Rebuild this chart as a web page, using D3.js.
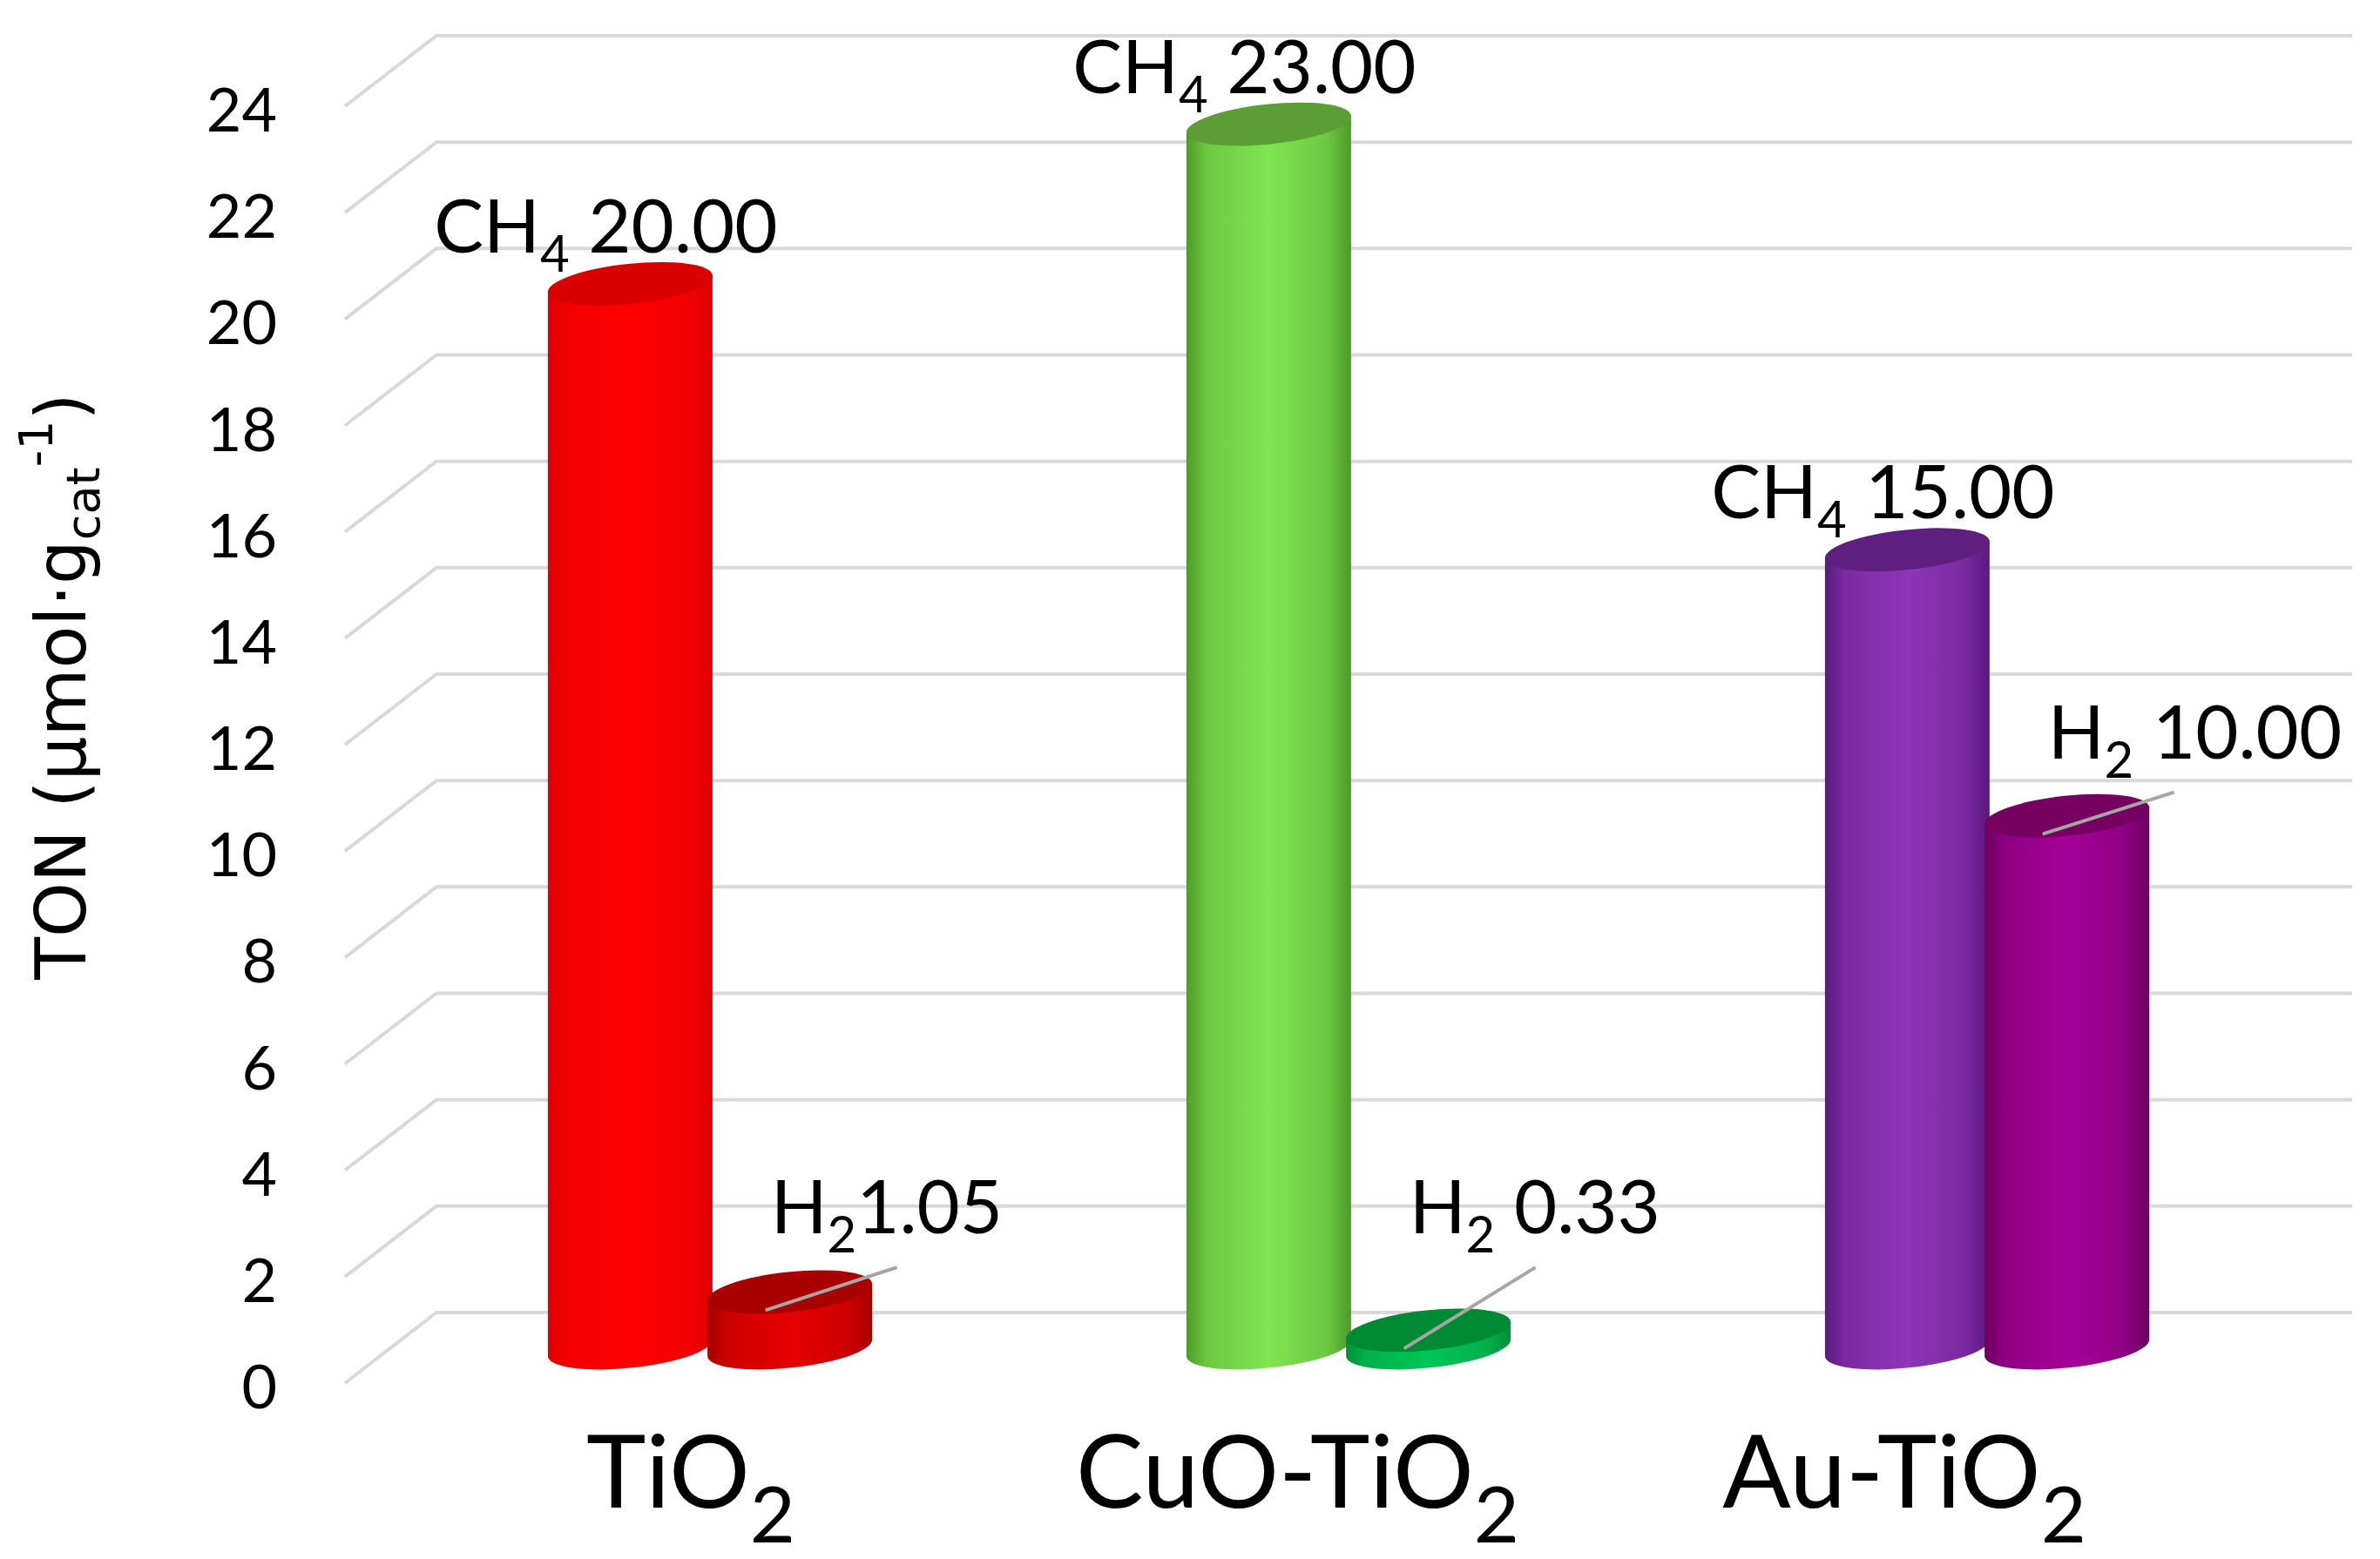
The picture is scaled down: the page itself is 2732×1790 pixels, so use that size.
<!DOCTYPE html>
<html>
<head>
<meta charset="utf-8">
<script src="https://cdn.jsdelivr.net/npm/d3@7"></script>
<style>
  body { margin: 0; background: #fff; }
</style>
</head>
<body>
<div id="chart"></div>
<script>
// data
var categories = ["TiO2", "CuO-TiO2", "Au-TiO2"];
var catText = ["TiO", "CuO-TiO", "Au-TiO"];   // a subscript "2" follows
var series = ["CH4", "H2"];
var ch4Values = [20.00, 23.00, 15.00];
var h2Values = [1.05, 0.33, 10.00];
var h2Gap = ["", " ", " "];                   // space between "H2" and the number
var yTicks = [0, 2, 4, 6, 8, 10, 12, 14, 16, 18, 20, 22, 24];

// colours: [edge, light, top]
var ch4Colors = [["#e00000", "#ff0000", "#da0000"],
                 ["#4f9a2a", "#7fe651", "#5b9e35"],
                 ["#5a1a7e", "#8f35b8", "#5f1f7e"]];
var h2Colors  = [["#a80000", "#e60000", "#a90000"],
                 ["#008f38", "#00c758", "#008a33"],
                 ["#6a005e", "#a6009a", "#76005f"]];

function init() {
    var w = 2732;
    var h = 1790;
    var depthX = 105, depthY = -81;     // front -> back wall
    var rx = 95, ry = 23, tilt = -6;    // cylinder ellipse
    var gridRight = 2700;

    var svg = d3.select("#chart").append("svg")
        .attr("width", w)
        .attr("height", h)
        .style("background", "#fff");

    var yFront = d3.scaleLinear().domain([0, 24]).range([1588, 122]);
    var yMid = v => yFront(v) + depthY / 2;

    var xFront0 = 396;
    var xBand = d3.scaleBand()
        .domain(categories)
        .range([xFront0 + depthX / 2, gridRight - depthX / 2]);
    var bw = xBand.bandwidth();
    var xSub = d3.scaleBand().domain(series).range([0.25 * bw, 0.75 * bw]);
    var barX = (c, s) => xBand(c) + xSub(s) + xSub.bandwidth() / 2;

    var xLabel = d3.scalePoint().domain(categories).range([793, 2186]);

    // gradients
    var defs = svg.append("defs");
    function addGrad(id, cols) {
        var g = defs.append("linearGradient").attr("id", id)
            .attr("x1", "0%").attr("x2", "100%").attr("y1", "0%").attr("y2", "0%");
        [[0, cols[0]], [0.12, d3.interpolateRgb(cols[0], cols[1])(0.6)], [0.5, cols[1]],
         [0.85, d3.interpolateRgb(cols[0], cols[1])(0.6)], [1, cols[0]]]
            .forEach(s => g.append("stop").attr("offset", s[0]).attr("stop-color", s[1]));
    }
    categories.forEach((c, i) => {
        addGrad("g-ch4-" + i, ch4Colors[i]);
        addGrad("g-h2-" + i, h2Colors[i]);
    });

    // gridlines (back wall + side wall)
    svg.append("g").selectAll("path")
        .data(yTicks)
        .enter()
        .append("path")
        .attr("d", t => {
            var yf = yFront(t);
            return "M" + xFront0 + "," + yf + " L" + (xFront0 + depthX) + "," + (yf + depthY)
                + " L" + gridRight + "," + (yf + depthY);
        })
        .attr("fill", "none")
        .attr("stroke", "#d9d9d9")
        .attr("stroke-width", 4);

    // y tick labels
    svg.append("g").selectAll("text")
        .data(yTicks)
        .enter()
        .append("text")
        .attr("x", 318)
        .attr("y", t => yFront(t) + 29)
        .attr("text-anchor", "end")
        .style("font-family", "Lato, 'Open Sans', sans-serif")
        .style("font-size", "70px")
        .text(t => t);

    // cylinders
    var th = tilt * Math.PI / 180;
    var ex = rx * Math.cos(th), ey = rx * Math.sin(th);
    function cylinder(g, cx, v, gradId, topCol) {
        var yt = yMid(v), yb = yMid(0);
        var d = "M" + (cx - ex) + "," + (yt - ey)
            + " L" + (cx - ex) + "," + (yb - ey)
            + " A" + rx + "," + ry + " " + tilt + " 0 0 " + (cx + ex) + "," + (yb + ey)
            + " L" + (cx + ex) + "," + (yt + ey) + " Z";
        g.append("path").attr("d", d).attr("fill", "url(#" + gradId + ")");
        g.append("ellipse")
            .attr("cx", 0).attr("cy", 0).attr("rx", rx).attr("ry", ry)
            .attr("transform", "translate(" + cx + "," + yt + ") rotate(" + tilt + ")")
            .attr("fill", topCol);
    }

    var bars = svg.append("g");
    categories.forEach((c, i) => {
        cylinder(bars, barX(c, "CH4"), ch4Values[i], "g-ch4-" + i, ch4Colors[i][2]);
        cylinder(bars, barX(c, "H2"), h2Values[i], "g-h2-" + i, h2Colors[i][2]);
    });

    var fmt = d3.format(".2f");
    var labelFont = "Lato, 'Open Sans', sans-serif";

    // CH4 labels
    categories.forEach((c, i) => {
        var t = svg.append("text")
            .attr("x", barX(c, "CH4") - 28)
            .attr("y", yMid(ch4Values[i]) - 36)
            .attr("text-anchor", "middle")
            .style("font-family", labelFont)
            .style("font-size", "85px");
        t.append("tspan").text("CH");
        t.append("tspan").attr("dy", 22).style("font-size", "58px").text("4");
        t.append("tspan").attr("dy", -22).text(" " + fmt(ch4Values[i]));
    });

    // H2 labels with leader lines
    categories.forEach((c, i) => {
        var cx = barX(c, "H2");
        var v = h2Values[i];
        var tx = cx - 22;
        var ty = Math.min(yMid(v) - 66, yMid(2.15));
        svg.append("line")
            .attr("x1", cx - 28).attr("y1", yMid(v) + 21)
            .attr("x2", tx + 145).attr("y2", ty + 39)
            .attr("stroke", "#a6a6a6")
            .attr("stroke-width", 4);
        var t = svg.append("text")
            .attr("x", tx)
            .attr("y", ty)
            .style("font-family", labelFont)
            .style("font-size", "85px");
        t.append("tspan").text("H");
        t.append("tspan").attr("dy", 22).style("font-size", "58px").text("2");
        t.append("tspan").attr("dy", -22).text(h2Gap[i] + fmt(v));
    });

    // category labels
    categories.forEach((c, i) => {
        var t = svg.append("text")
            .attr("x", xLabel(c))
            .attr("y", 1731)
            .attr("text-anchor", "middle")
            .style("font-family", labelFont)
            .style("font-size", "116px");
        t.append("tspan").text(catText[i]);
        t.append("tspan").attr("dy", 40).style("font-size", "90px").text("2");
    });

    // y axis title
    var yt = svg.append("text")
        .attr("transform", "translate(98,788) rotate(-90)")
        .attr("text-anchor", "middle")
        .style("font-family", "'DejaVu Sans', Verdana, sans-serif")
        .style("font-size", "80px");
    yt.append("tspan").text("TON (\u03bcmol\u00b7g");
    yt.append("tspan").attr("dy", 16).style("font-size", "54px").text("cat");
    yt.append("tspan").attr("dy", -54).style("font-size", "54px").text("-1");
    yt.append("tspan").attr("dy", 38).text(")");
}

window.onload = init;
</script>
</body>
</html>
